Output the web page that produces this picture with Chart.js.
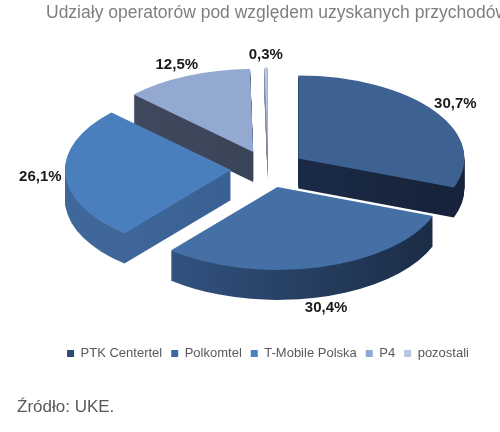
<!DOCTYPE html>
<html lang="pl">
<head>
<meta charset="utf-8">
<title>Udziały operatorów</title>
<script src="https://cdn.jsdelivr.net/npm/chart.js@4.4.0/dist/chart.umd.min.js"></script>
<style>
  html, body { margin: 0; padding: 0; background: #fff; overflow: hidden; }
  #wrap { width: 500px; height: 432px; }
</style>
</head>
<body>
<div id="wrap"><canvas id="udzialyChart" width="500" height="432"></canvas></div>
<script>
const operatorzy = ["PTK Centertel", "Polkomtel", "T-Mobile Polska", "P4", "pozostali"];
const udzialy = [30.7, 30.4, 26.1, 12.5, 0.3];

const tytul = "Udziały operatorów pod względem uzyskanych przychodów";
const zrodlo = "Źródło: UKE.";

// kolory: wierzch, bok (lewo/prawo), legenda
const topColors = ["#3d6190", "#4470a6", "#4a7ebd", "#93a9d1", "#b9c8e2"];
const sideColors = [
  ["#22365a", "#16233a"],
  ["#385c8e", "#1b2c45"],
  ["#3f6799", "#32568a"],
  ["#404a5e", "#343d4f"],
  ["#8e9aae", "#6f7b8f"],
];
const legendColors = ["#2c4b78", "#3c68a2", "#4a7fc0", "#8ea8d2", "#b7c5e0"];

const FONT = "'Liberation Sans', Arial, sans-serif";
const SQUASH = 0.5;  // nachylenie
const DEPTH = 30;    // grubość w px
const EXPLODE = 37;  // wysunięcie kawałków

function formatPct(v) {
  return v.toFixed(1).replace(".", ",") + "%";
}

const pie3d = {
  id: "pie3d",
  beforeDatasetsDraw(chart) {
    const ctx = chart.ctx;
    const arcs = chart.getDatasetMeta(0).data;
    if (!arcs.length) return;
    const cx = arcs[0].x;
    const cy = arcs[0].y;

    ctx.save();
    ctx.translate(cx, cy);
    ctx.scale(1, SQUASH);
    ctx.translate(-cx, -cy);

    const grads = arcs.map((arc, i) => {
      const g = ctx.createLinearGradient(arc.x - arc.outerRadius, 0, arc.x + arc.outerRadius, 0);
      g.addColorStop(0, sideColors[i][0]);
      g.addColorStop(1, sideColors[i][1]);
      return g;
    });

    // boki - warstwy od dołu
    for (let d = DEPTH; d >= 1; d--) {
      arcs.forEach((arc, i) => {
        const mid = (arc.startAngle + arc.endAngle) / 2;
        const ox = arc.x + Math.cos(mid) * EXPLODE;
        const oy = arc.y + Math.sin(mid) * EXPLODE + d / SQUASH;
        ctx.fillStyle = grads[i];
        ctx.beginPath();
        ctx.moveTo(ox, oy);
        ctx.arc(ox, oy, arc.outerRadius, arc.startAngle, arc.endAngle);
        ctx.closePath();
        ctx.fill();
      });
    }

    // wierzch rysuje sam Chart.js
    arcs.forEach((arc) => {
      const mid = (arc.startAngle + arc.endAngle) / 2;
      ctx.save();
      ctx.translate(Math.cos(mid) * EXPLODE, Math.sin(mid) * EXPLODE);
      arc.draw(ctx);
      ctx.restore();
    });

    ctx.restore();
    return false;
  },
  afterDraw(chart) {
    const ctx = chart.ctx;
    const arcs = chart.getDatasetMeta(0).data;

    ctx.save();
    ctx.font = "bold 15px " + FONT;
    ctx.fillStyle = "#1a1a1a";
    ctx.textAlign = "center";
    ctx.textBaseline = "middle";
    arcs.forEach((arc, i) => {
      const mid = (arc.startAngle + arc.endAngle) / 2;
      const dist = EXPLODE + arc.outerRadius + 25;
      const x = arc.x + Math.cos(mid) * dist;
      const y = arc.y + Math.sin(mid) * dist * SQUASH + DEPTH * Math.max(0, Math.sin(mid));
      ctx.fillText(formatPct(udzialy[i]), x, y);
    });

    ctx.textAlign = "left";
    ctx.font = "17.5px " + FONT;
    ctx.fillStyle = "#7f7f7f";
    ctx.fillText(tytul, 46, 13);

    ctx.font = "17px " + FONT;
    ctx.fillStyle = "#595959";
    ctx.fillText(zrodlo, 17, 407);
    ctx.restore();
  },
};

const ctx = document.getElementById("udzialyChart");

const baseLabels = (Chart.overrides.doughnut || Chart.overrides.pie).plugins.legend.labels.generateLabels;

new Chart(ctx, {
  type: "pie",
  data: {
    labels: operatorzy,
    datasets: [
      {
        data: udzialy,
        backgroundColor: topColors,
        borderWidth: 0,
      },
    ],
  },
  options: {
    responsive: false,
    animation: false,
    events: [],
    radius: 166,
    layout: {
      padding: { top: 0, left: 36, right: 0, bottom: 62 },
    },
    plugins: {
      title: { display: false },
      tooltip: { enabled: false },
      legend: {
        display: true,
        position: "bottom",
        labels: {
          boxWidth: 7,
          boxHeight: 7,
          padding: 9,
          color: "#595959",
          font: { family: FONT, size: 13 },
          generateLabels: function (chart) {
            const items = baseLabels(chart);
            items.forEach((item, i) => {
              item.fillStyle = legendColors[i];
              item.strokeStyle = legendColors[i];
              item.lineWidth = 0;
            });
            return items;
          },
        },
      },
    },
  },
  plugins: [pie3d],
});
</script>
</body>
</html>
